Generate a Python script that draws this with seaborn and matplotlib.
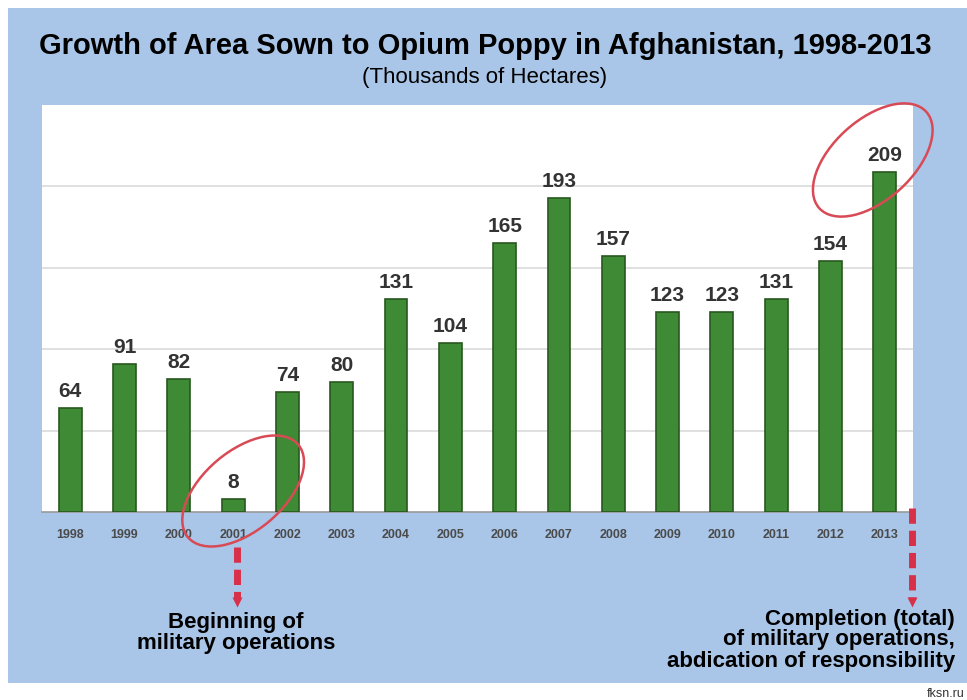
import matplotlib
matplotlib.use("Agg")
import matplotlib.pyplot as plt
import seaborn as sns
import pandas as pd
from matplotlib.patches import Ellipse

years = ["1998", "1999", "2000", "2001", "2002", "2003", "2004", "2005",
         "2006", "2007", "2008", "2009", "2010", "2011", "2012", "2013"]
area = [64, 91, 82, 8, 74, 80, 131, 104, 165, 193, 157, 123, 123, 131, 154, 209]
gridlines = [50, 100, 150, 200]

title = "Growth of Area Sown to Opium Poppy in Afghanistan, 1998-2013"
subtitle = "(Thousands of Hectares)"
note_start = "Beginning of\nmilitary operations"
note_end = "Completion (total)\nof military operations,\nabdication of responsibility"
source = "fksn.ru"

df = pd.DataFrame({"year": years, "area": area})

sns.set_theme(style="white")
plt.rcParams["font.family"] = ["Liberation Sans", "DejaVu Sans"]

W, H = 967, 700
fig = plt.figure(figsize=(W / 100, H / 100), dpi=100, facecolor="white")

BLUE = "#a9c6e8"
# blue panel as a background axes
bg = fig.add_axes([8 / W, 1 - 683 / H, (W - 8) / W, (683 - 8) / H], zorder=0)
bg.set_facecolor(BLUE)
bg.set_xticks([])
bg.set_yticks([])
for s in bg.spines.values():
    s.set_visible(False)

ax = fig.add_axes([42 / W, 1 - 512 / H, (913 - 42) / W, (512 - 105) / H], zorder=2)
ax.set_facecolor("white")
sns.barplot(data=df, x="year", y="area", ax=ax, color="#3f8a35",
            width=0.42, saturation=1, edgecolor="#29571f", linewidth=1.2,
            zorder=3)
ax.set_ylim(0, 250)
ax.set_xlim(-0.52, len(years) - 0.48)
for g in gridlines:
    ax.axhline(g, color="#dadada", lw=1.2, zorder=1)
for c in ax.containers:
    ax.bar_label(c, labels=[str(v) for v in area], padding=5, fontsize=15,
                 fontweight="bold", color="#333333")
ax.set_xlabel("")
ax.set_ylabel("")
ax.set_yticks([])
ax.tick_params(axis="x", length=0, pad=12, labelsize=9, labelcolor="#4a4a4a")
for lab in ax.get_xticklabels():
    lab.set_fontweight("bold")
for s in ["left", "right", "top"]:
    ax.spines[s].set_visible(False)
ax.spines["bottom"].set_color("#9a9a9a")
ax.spines["bottom"].set_linewidth(1.2)

# overlay in pixel coordinates (y down)
ov = fig.add_axes([0, 0, 1, 1], zorder=10)
ov.set_xlim(0, W)
ov.set_ylim(H, 0)
ov.axis("off")
ov.patch.set_alpha(0)

ov.text(485, 46, title, ha="center", va="center",
        fontsize=21, fontweight="bold", color="black")
ov.text(485, 78, subtitle, ha="center", va="center",
        fontsize=16, color="black")

def bar_px(i):
    x, _ = ax.transData.transform((i, 0))
    return x

RED = "#d9304a"
x01 = bar_px(years.index("2001"))
x13 = bar_px(years.index("2013"))

ov.add_patch(Ellipse((x01 + 10, 491), 144, 80, angle=-40, fill=False,
                     edgecolor="#d84a55", lw=1.8))
ov.add_patch(Ellipse((x13 - 12, 160), 144, 80, angle=-42, fill=False,
                     edgecolor="#d84a55", lw=1.8))

def dashed_arrow(x, y0, y1):
    ov.plot([x, x], [y0, y1 - 6], color=RED, lw=5, dashes=(2.2, 1.0),
            solid_capstyle="butt", dash_capstyle="butt")
    ov.plot([x], [y1 - 3], marker="v", color=RED, markersize=7, mec="none")

dashed_arrow(x01 + 4, 547, 605)
dashed_arrow(912, 508, 605)

ov.text(236, 633, note_start, ha="center", va="center", fontsize=16,
        fontweight="bold", color="black", linespacing=1.0)
ov.text(955, 640, note_end, ha="right", va="center", fontsize=16,
        fontweight="bold", color="black", linespacing=1.0,
        multialignment="right")
ov.text(965, 694, source, ha="right", va="center", fontsize=9, color="#333333")

fig.savefig("out.png", dpi=100, facecolor="white")
